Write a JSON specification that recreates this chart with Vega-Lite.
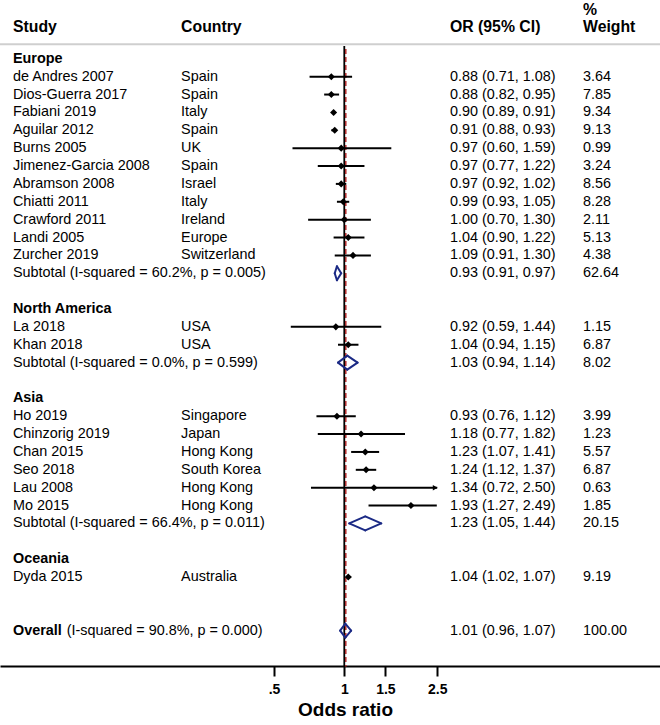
{
  "$schema": "https://vega.github.io/schema/vega-lite/v6.json",
  "width": 660,
  "height": 666,
  "autosize": {"type": "none"},
  "padding": {"left": 0, "top": 0, "right": 0, "bottom": 59},
  "background": "white",
  "config": {
    "view": {"stroke": null},
    "font": "Liberation Sans",
    "text": {"font": "Liberation Sans", "fontSize": 14.4, "color": "black", "baseline": "middle", "align": "left"}
  },
  "data": {
    "values": [
      {"study": "Europe", "kind": "group"},
      {"study": "de Andres 2007", "country": "Spain", "or": 0.88, "lo": 0.71, "hi": 1.08, "weight": 3.64, "kind": "study"},
      {"study": "Dios-Guerra 2017", "country": "Spain", "or": 0.88, "lo": 0.82, "hi": 0.95, "weight": 7.85, "kind": "study"},
      {"study": "Fabiani 2019", "country": "Italy", "or": 0.90, "lo": 0.89, "hi": 0.91, "weight": 9.34, "kind": "study"},
      {"study": "Aguilar 2012", "country": "Spain", "or": 0.91, "lo": 0.88, "hi": 0.93, "weight": 9.13, "kind": "study"},
      {"study": "Burns 2005", "country": "UK", "or": 0.97, "lo": 0.60, "hi": 1.59, "weight": 0.99, "kind": "study"},
      {"study": "Jimenez-Garcia 2008", "country": "Spain", "or": 0.97, "lo": 0.77, "hi": 1.22, "weight": 3.24, "kind": "study"},
      {"study": "Abramson 2008", "country": "Israel", "or": 0.97, "lo": 0.92, "hi": 1.02, "weight": 8.56, "kind": "study"},
      {"study": "Chiatti 2011", "country": "Italy", "or": 0.99, "lo": 0.93, "hi": 1.05, "weight": 8.28, "kind": "study"},
      {"study": "Crawford 2011", "country": "Ireland", "or": 1.00, "lo": 0.70, "hi": 1.30, "weight": 2.11, "kind": "study"},
      {"study": "Landi 2005", "country": "Europe", "or": 1.04, "lo": 0.90, "hi": 1.22, "weight": 5.13, "kind": "study"},
      {"study": "Zurcher 2019", "country": "Switzerland", "or": 1.09, "lo": 0.91, "hi": 1.30, "weight": 4.38, "kind": "study"},
      {"study": "Subtotal (I-squared = 60.2%, p = 0.005)", "or": 0.93, "lo": 0.91, "hi": 0.97, "weight": 62.64, "kind": "subtotal"},
      {"study": "North America", "kind": "group"},
      {"study": "La 2018", "country": "USA", "or": 0.92, "lo": 0.59, "hi": 1.44, "weight": 1.15, "kind": "study"},
      {"study": "Khan 2018", "country": "USA", "or": 1.04, "lo": 0.94, "hi": 1.15, "weight": 6.87, "kind": "study"},
      {"study": "Subtotal (I-squared = 0.0%, p = 0.599)", "or": 1.03, "lo": 0.94, "hi": 1.14, "weight": 8.02, "kind": "subtotal"},
      {"study": "Asia", "kind": "group"},
      {"study": "Ho 2019", "country": "Singapore", "or": 0.93, "lo": 0.76, "hi": 1.12, "weight": 3.99, "kind": "study"},
      {"study": "Chinzorig 2019", "country": "Japan", "or": 1.18, "lo": 0.77, "hi": 1.82, "weight": 1.23, "kind": "study"},
      {"study": "Chan 2015", "country": "Hong Kong", "or": 1.23, "lo": 1.07, "hi": 1.41, "weight": 5.57, "kind": "study"},
      {"study": "Seo 2018", "country": "South Korea", "or": 1.24, "lo": 1.12, "hi": 1.37, "weight": 6.87, "kind": "study"},
      {"study": "Lau 2008", "country": "Hong Kong", "or": 1.34, "lo": 0.72, "hi": 2.50, "weight": 0.63, "kind": "study"},
      {"study": "Mo 2015", "country": "Hong Kong", "or": 1.93, "lo": 1.27, "hi": 2.49, "weight": 1.85, "kind": "study"},
      {"study": "Subtotal (I-squared = 66.4%, p = 0.011)", "or": 1.23, "lo": 1.05, "hi": 1.44, "weight": 20.15, "kind": "subtotal"},
      {"study": "Oceania", "kind": "group"},
      {"study": "Dyda 2015", "country": "Australia", "or": 1.04, "lo": 1.02, "hi": 1.07, "weight": 9.19, "kind": "study"},
      {"study": "Overall", "note": "(I-squared = 90.8%, p = 0.000)", "or": 1.01, "lo": 0.96, "hi": 1.07, "weight": 100.00, "kind": "overall"}
    ]
  },
  "encoding": {
    "y": {
      "field": "study",
      "type": "nominal",
      "axis": null,
      "scale": {
        "type": "point",
        "padding": 0,
        "range": [23.06, 666.4],
        "domain": ["hdr", "sep", "Europe", "de Andres 2007", "Dios-Guerra 2017", "Fabiani 2019", "Aguilar 2012", "Burns 2005", "Jimenez-Garcia 2008", "Abramson 2008", "Chiatti 2011", "Crawford 2011", "Landi 2005", "Zurcher 2019", "Subtotal (I-squared = 60.2%, p = 0.005)", "gap1", "North America", "La 2018", "Khan 2018", "Subtotal (I-squared = 0.0%, p = 0.599)", "gap2", "Asia", "Ho 2019", "Chinzorig 2019", "Chan 2015", "Seo 2018", "Lau 2008", "Mo 2015", "Subtotal (I-squared = 66.4%, p = 0.011)", "gap3", "Oceania", "Dyda 2015", "gap4", "gap5", "Overall", "gap6", "axis"]
      }
    }
  },
  "layer": [
    {
      "data": {"values": [{}]},
      "mark": {"type": "rule", "color": "#cfcfcf", "strokeWidth": 2, "yOffset": 3.3},
      "encoding": {"y": {"datum": "sep"}}
    },
    {
      "data": {"values": [{}]},
      "mark": {"type": "rule", "color": "black", "strokeWidth": 1.8, "yOffset": 5},
      "encoding": {
        "x": {"datum": 1, "type": "quantitative"},
        "y": {"datum": "sep"},
        "y2": {"datum": "axis"}
      }
    },
    {
      "transform": [{"filter": "datum.kind === 'overall'"}],
      "mark": {"type": "rule", "color": "#b02c2c", "strokeWidth": 1.5, "strokeDash": [5, 3], "yOffset": 8, "xOffset": 0.5},
      "encoding": {
        "x": {"field": "or", "type": "quantitative"},
        "y": {"datum": "sep", "type": "nominal"},
        "y2": {"datum": "axis"}
      }
    },
    {
      "transform": [{"filter": "datum.kind === 'study'"}],
      "mark": {"type": "rule", "color": "black", "strokeWidth": 2},
      "encoding": {
        "x": {
          "field": "lo",
          "type": "quantitative",
          "scale": {"type": "log", "domain": [0.03353, 22.5], "nice": false, "zero": false},
          "axis": {
            "values": [0.5, 1, 1.5, 2.5],
            "labelExpr": "replace(format(datum.value, '~g'), '0.', '.')",
            "grid": false,
            "domainColor": "black",
            "domainWidth": 2,
            "tickColor": "black",
            "tickWidth": 2,
            "tickSize": 10,
            "labelFont": "Liberation Sans",
            "labelFontSize": 14,
            "labelFontWeight": "bold",
            "labelColor": "black",
            "labelPadding": 6,
            "title": "Odds ratio",
            "titleFont": "Liberation Sans",
            "titleFontSize": 19,
            "titleFontWeight": "bold",
            "titleColor": "black",
            "titleX": 345,
            "titlePadding": 4
          }
        },
        "x2": {"field": "hi"}
      }
    },
    {
      "transform": [{"filter": "datum.kind === 'study' && datum.hi >= 2.5"}],
      "mark": {"type": "point", "shape": "triangle-right", "filled": true, "color": "black", "size": 30, "opacity": 1, "xOffset": -2},
      "encoding": {"x": {"field": "hi", "type": "quantitative"}}
    },
    {
      "transform": [{"filter": "datum.kind === 'study'"}],
      "mark": {"type": "point", "shape": "diamond", "filled": true, "color": "black", "size": 50, "opacity": 1},
      "encoding": {"x": {"field": "or", "type": "quantitative"}}
    },
    {
      "transform": [{"filter": "datum.kind === 'subtotal' || datum.kind === 'overall'"}],
      "mark": {"type": "rule", "color": "#1b2a85", "strokeWidth": 2, "strokeCap": "round", "y2Offset": -7},
      "encoding": {"x": {"field": "lo", "type": "quantitative"}, "x2": {"field": "or"}, "y2": {"field": "study"}}
    },
    {
      "transform": [{"filter": "datum.kind === 'subtotal' || datum.kind === 'overall'"}],
      "mark": {"type": "rule", "color": "#1b2a85", "strokeWidth": 2, "strokeCap": "round", "y2Offset": 7},
      "encoding": {"x": {"field": "lo", "type": "quantitative"}, "x2": {"field": "or"}, "y2": {"field": "study"}}
    },
    {
      "transform": [{"filter": "datum.kind === 'subtotal' || datum.kind === 'overall'"}],
      "mark": {"type": "rule", "color": "#1b2a85", "strokeWidth": 2, "strokeCap": "round", "yOffset": -7},
      "encoding": {"x": {"field": "or", "type": "quantitative"}, "x2": {"field": "hi"}, "y2": {"field": "study"}}
    },
    {
      "transform": [{"filter": "datum.kind === 'subtotal' || datum.kind === 'overall'"}],
      "mark": {"type": "rule", "color": "#1b2a85", "strokeWidth": 2, "strokeCap": "round", "yOffset": 7},
      "encoding": {"x": {"field": "or", "type": "quantitative"}, "x2": {"field": "hi"}, "y2": {"field": "study"}}
    },
    {
      "transform": [{"filter": "datum.kind === 'study' || datum.kind === 'subtotal'"}],
      "mark": {"type": "text"},
      "encoding": {"x": {"datum": 0.0381, "type": "quantitative"}, "text": {"field": "study"}}
    },
    {
      "transform": [{"filter": "datum.kind === 'group' || datum.kind === 'overall'"}],
      "mark": {"type": "text", "fontWeight": "bold"},
      "encoding": {"x": {"datum": 0.0381, "type": "quantitative"}, "text": {"field": "study"}}
    },
    {
      "transform": [{"filter": "datum.kind === 'overall'"}],
      "mark": {"type": "text"},
      "encoding": {"x": {"datum": 0.0647, "type": "quantitative"}, "text": {"field": "note"}}
    },
    {
      "transform": [{"filter": "datum.kind === 'study'"}],
      "mark": {"type": "text"},
      "encoding": {"x": {"datum": 0.2, "type": "quantitative"}, "text": {"field": "country"}}
    },
    {
      "transform": [
        {"filter": "datum.kind !== 'group'"},
        {"calculate": "format(datum.or, '.2f') + ' (' + format(datum.lo, '.2f') + ', ' + format(datum.hi, '.2f') + ')'", "as": "orlabel"}
      ],
      "mark": {"type": "text"},
      "encoding": {"x": {"datum": 2.836, "type": "quantitative"}, "text": {"field": "orlabel"}}
    },
    {
      "transform": [{"filter": "datum.kind !== 'group'"}],
      "mark": {"type": "text"},
      "encoding": {"x": {"datum": 10.53, "type": "quantitative"}, "text": {"field": "weight", "format": ".2f"}}
    },
    {
      "data": {"values": [{"h": "Study", "v": 0.0381}, {"h": "Country", "v": 0.2}, {"h": "OR (95% CI)", "v": 2.836}, {"h": "Weight", "v": 10.53}]},
      "mark": {"type": "text", "fontWeight": "bold", "fontSize": 15.8, "dy": 4},
      "encoding": {"x": {"field": "v", "type": "quantitative"}, "y": {"datum": "hdr"}, "text": {"field": "h"}}
    },
    {
      "data": {"values": [{"h": "%"}]},
      "mark": {"type": "text", "fontWeight": "bold", "fontSize": 15.8, "dy": -13},
      "encoding": {"x": {"datum": 10.53, "type": "quantitative"}, "y": {"datum": "hdr"}, "text": {"field": "h"}}
    }
  ]
}
